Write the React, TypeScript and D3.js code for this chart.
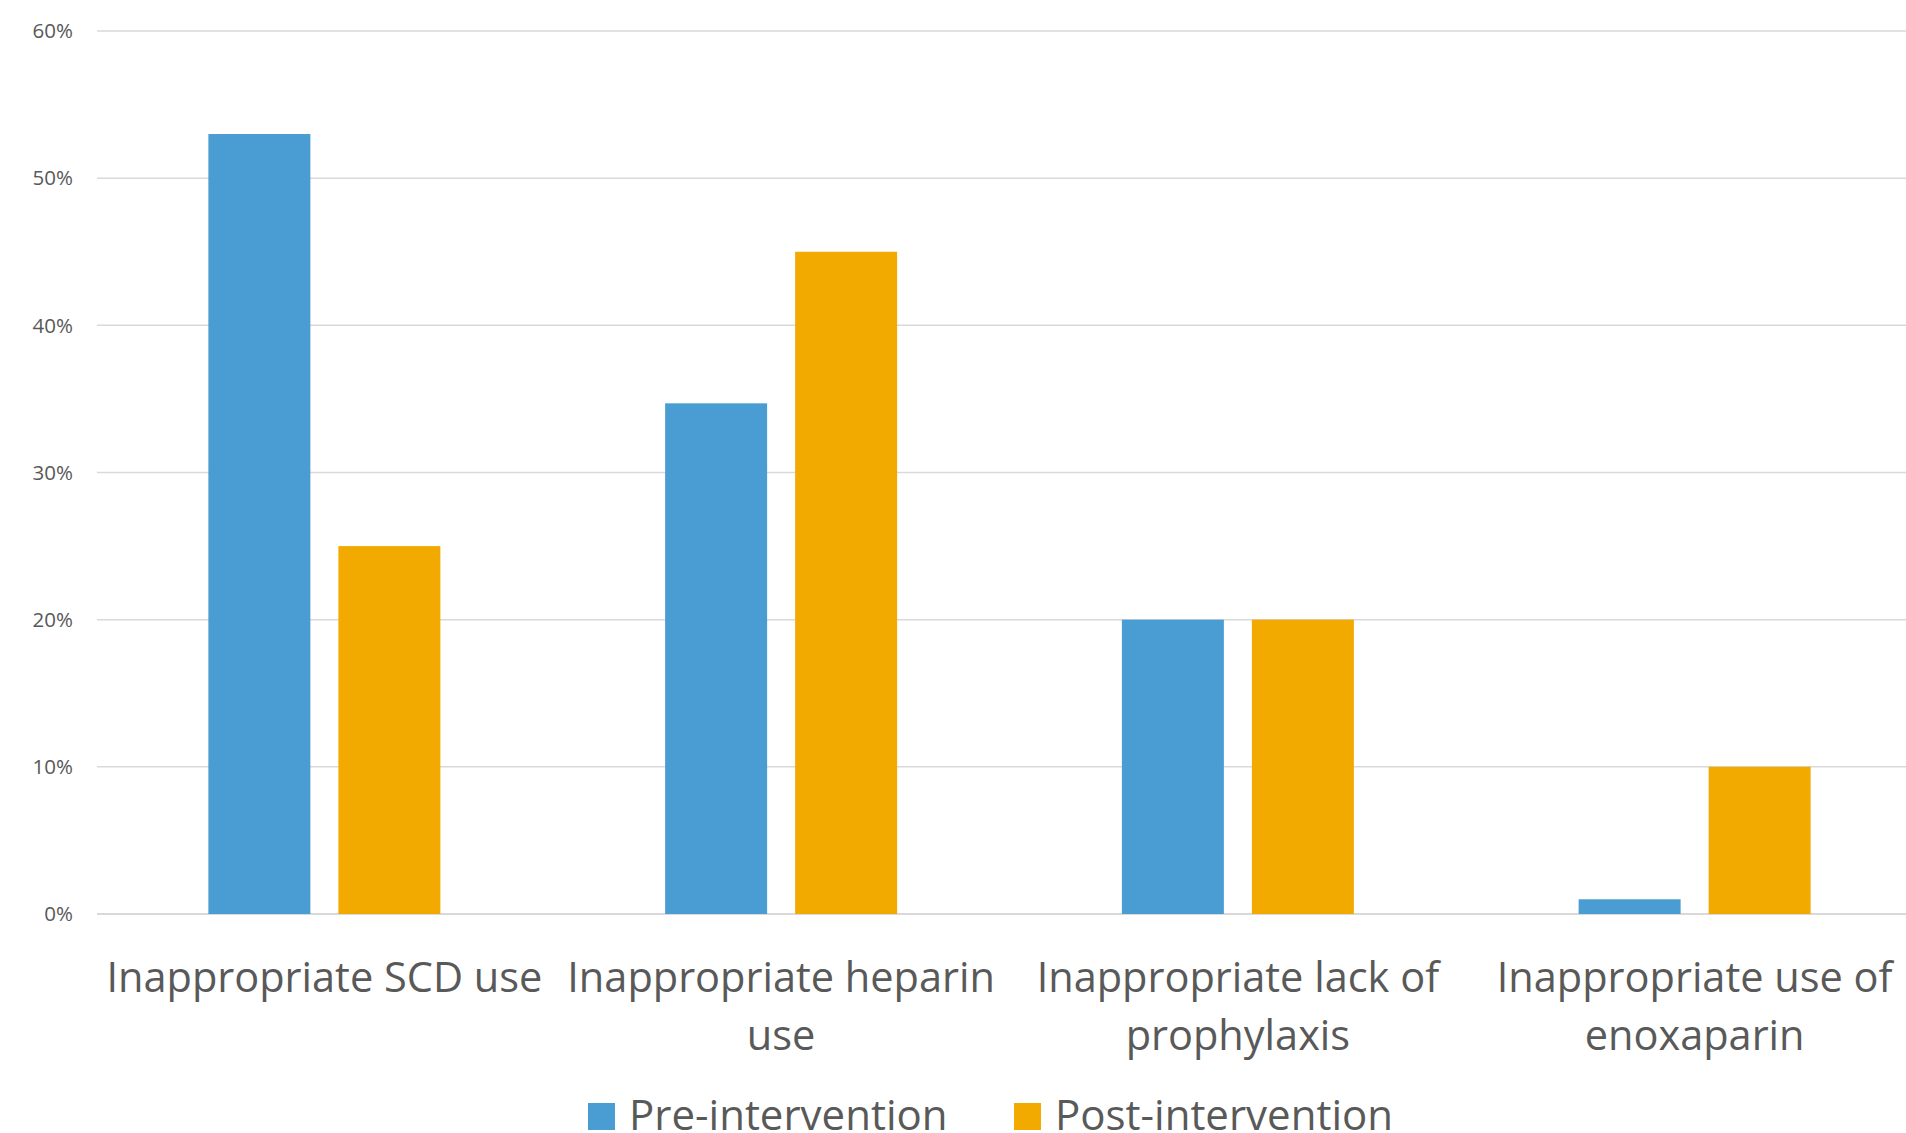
import React from "react";
import * as d3 from "d3";

const categories = [
  "Inappropriate SCD use",
  "Inappropriate heparin use",
  "Inappropriate lack of prophylaxis",
  "Inappropriate use of enoxaparin",
];
const categoryLines = [
  ["Inappropriate SCD use"],
  ["Inappropriate heparin", "use"],
  ["Inappropriate lack of", "prophylaxis"],
  ["Inappropriate use of", "enoxaparin"],
];
const seriesNames = ["Pre-intervention", "Post-intervention"];
const preValues = [0.53, 0.347, 0.2, 0.01];
const postValues = [0.25, 0.45, 0.2, 0.1];
const yTicks = [0, 0.1, 0.2, 0.3, 0.4, 0.5, 0.6];

const W = 1906;
const H = 1133;
const colors = ["#4A9DD3", "#F2AA00"];
const textColor = "#595959";
const gridColor = "#D9D9D9";
const font = "'Open Sans', 'Noto Sans', sans-serif";

export default function App() {
  const left = 96;
  const right = 1923;
  const top = 31;
  const bottom = 914;

  const x0 = d3.scaleBand<string>().domain(categories).range([left, right]).padding(0);
  const groupW = 232;
  const x1 = d3
    .scaleBand<string>()
    .domain(seriesNames)
    .range([0, groupW])
    .paddingInner(28 / 130)
    .paddingOuter(0);
  const y = d3.scaleLinear().domain([0, 0.6]).range([bottom, top]);
  const fmt = d3.format(".0%");
  const series = [preValues, postValues];

  return (
    <svg
      width={W}
      height={H}
      style={{ position: "absolute", left: 0, top: 0, background: "#fff" }}
      fontFamily={font}
    >
      <rect x={0} y={0} width={W} height={H} fill="#fff" />
      {yTicks.map((t) => (
        <g key={t}>
          <line
            x1={97}
            x2={right}
            y1={y(t)}
            y2={y(t)}
            stroke={gridColor}
            strokeWidth={t === 0 ? 2 : 1.5}
          />
          <text
            x={73}
            y={y(t)}
            dy="0.35em"
            textAnchor="end"
            fontSize={20.5}
            fill={textColor}
          >
            {fmt(t)}
          </text>
        </g>
      ))}
      {categories.map((c, i) => {
        const gx = (x0(c) as number) + (x0.bandwidth() - groupW) / 2;
        return (
          <g key={c}>
            {seriesNames.map((s, j) => {
              const v = series[j][i];
              return (
                <rect
                  key={s}
                  x={gx + (x1(s) as number)}
                  y={y(v)}
                  width={x1.bandwidth()}
                  height={y(0) - y(v)}
                  fill={colors[j]}
                />
              );
            })}
            <text
              x={(x0(c) as number) + x0.bandwidth() / 2}
              y={992}
              textAnchor="middle"
              fontSize={41.5}
              fill={textColor}
            >
              {categoryLines[i].map((line, k) => (
                <tspan key={k} x={(x0(c) as number) + x0.bandwidth() / 2} dy={k === 0 ? 0 : 58}>
                  {line}
                </tspan>
              ))}
            </text>
          </g>
        );
      })}
      {seriesNames.map((s, j) => {
        const lx = j === 0 ? 588 : 1014;
        return (
          <g key={s}>
            <rect x={lx} y={1103} width={27} height={27} fill={colors[j]} />
            <text x={lx + 41} y={1130} fontSize={42} fill={textColor}>
              {s}
            </text>
          </g>
        );
      })}
    </svg>
  );
}
